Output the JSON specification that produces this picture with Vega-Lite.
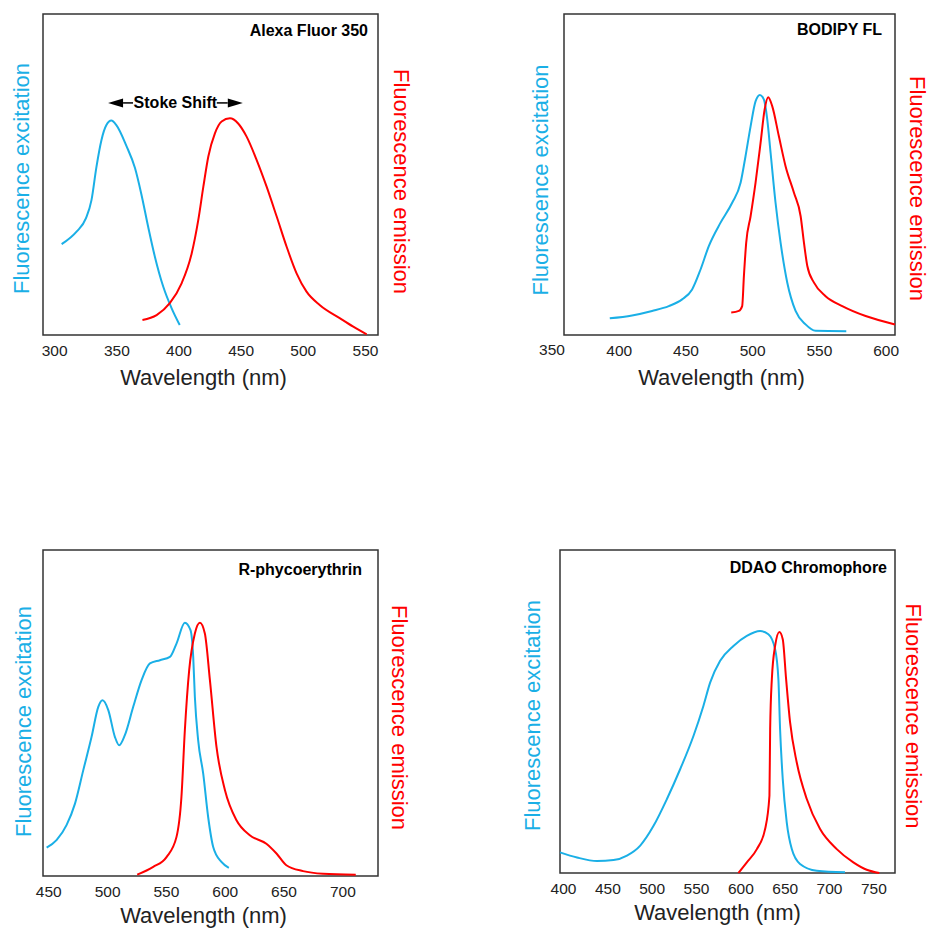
{
  "$schema": "https://vega.github.io/schema/vega-lite/v6.json",
  "background": "white",
  "padding": {"left": 9, "top": 13, "right": 0, "bottom": 0},
  "datasets": {
    "alexa": [
      {"s": "ex", "w": 306, "v": 0.283}, {"s": "ex", "w": 318, "v": 0.322}, {"s": "ex", "w": 325.5, "v": 0.363}, {"s": "ex", "w": 330, "v": 0.42}, {"s": "ex", "w": 334, "v": 0.524}, {"s": "ex", "w": 338, "v": 0.607}, {"s": "ex", "w": 342, "v": 0.654}, {"s": "ex", "w": 346, "v": 0.668}, {"s": "ex", "w": 350, "v": 0.654}, {"s": "ex", "w": 358, "v": 0.59}, {"s": "ex", "w": 365, "v": 0.52}, {"s": "ex", "w": 370, "v": 0.441}, {"s": "ex", "w": 375.6, "v": 0.337}, {"s": "ex", "w": 381, "v": 0.244}, {"s": "ex", "w": 387.7, "v": 0.151}, {"s": "ex", "w": 394.5, "v": 0.083}, {"s": "ex", "w": 401, "v": 0.031},
      {"s": "em", "w": 371, "v": 0.047}, {"s": "em", "w": 382.4, "v": 0.062}, {"s": "em", "w": 393, "v": 0.099}, {"s": "em", "w": 402.5, "v": 0.161}, {"s": "em", "w": 410.6, "v": 0.254}, {"s": "em", "w": 415.9, "v": 0.358}, {"s": "em", "w": 420, "v": 0.462}, {"s": "em", "w": 424, "v": 0.556}, {"s": "em", "w": 429.3, "v": 0.628}, {"s": "em", "w": 434.7, "v": 0.665}, {"s": "em", "w": 441.4, "v": 0.675}, {"s": "em", "w": 448, "v": 0.659}, {"s": "em", "w": 454.8, "v": 0.618}, {"s": "em", "w": 462.9, "v": 0.545}, {"s": "em", "w": 470.9, "v": 0.462}, {"s": "em", "w": 479, "v": 0.369}, {"s": "em", "w": 487, "v": 0.275}, {"s": "em", "w": 495, "v": 0.192}, {"s": "em", "w": 503, "v": 0.135}, {"s": "em", "w": 513.8, "v": 0.093}, {"s": "em", "w": 530, "v": 0.052}, {"s": "em", "w": 540.6, "v": 0.026}, {"s": "em", "w": 551.4, "v": 0.002}
    ],
    "bodipy": [
      {"s": "ex", "w": 393.3, "v": 0.052}, {"s": "ex", "w": 410, "v": 0.061}, {"s": "ex", "w": 425, "v": 0.075}, {"s": "ex", "w": 437.5, "v": 0.09}, {"s": "ex", "w": 447.5, "v": 0.111}, {"s": "ex", "w": 455, "v": 0.142}, {"s": "ex", "w": 461.3, "v": 0.204}, {"s": "ex", "w": 467.5, "v": 0.277}, {"s": "ex", "w": 476.3, "v": 0.35}, {"s": "ex", "w": 485, "v": 0.412}, {"s": "ex", "w": 491.3, "v": 0.474}, {"s": "ex", "w": 495, "v": 0.557}, {"s": "ex", "w": 498.8, "v": 0.65}, {"s": "ex", "w": 502.5, "v": 0.728}, {"s": "ex", "w": 505.8, "v": 0.748}, {"s": "ex", "w": 508.8, "v": 0.733}, {"s": "ex", "w": 511.3, "v": 0.671}, {"s": "ex", "w": 513.8, "v": 0.567}, {"s": "ex", "w": 517.5, "v": 0.412}, {"s": "ex", "w": 521.3, "v": 0.287}, {"s": "ex", "w": 526.3, "v": 0.163}, {"s": "ex", "w": 532.5, "v": 0.075}, {"s": "ex", "w": 540, "v": 0.033}, {"s": "ex", "w": 547.5, "v": 0.013}, {"s": "ex", "w": 570.5, "v": 0.012},
      {"s": "em", "w": 484.3, "v": 0.07}, {"s": "em", "w": 490, "v": 0.075}, {"s": "em", "w": 492.5, "v": 0.09}, {"s": "em", "w": 493.8, "v": 0.184}, {"s": "em", "w": 495.5, "v": 0.287}, {"s": "em", "w": 498.8, "v": 0.37}, {"s": "em", "w": 502.5, "v": 0.474}, {"s": "em", "w": 506.3, "v": 0.599}, {"s": "em", "w": 509.3, "v": 0.702}, {"s": "em", "w": 512, "v": 0.741}, {"s": "em", "w": 515, "v": 0.713}, {"s": "em", "w": 520, "v": 0.619}, {"s": "em", "w": 525, "v": 0.526}, {"s": "em", "w": 531.3, "v": 0.443}, {"s": "em", "w": 536.3, "v": 0.37}, {"s": "em", "w": 538.8, "v": 0.287}, {"s": "em", "w": 541.3, "v": 0.215}, {"s": "em", "w": 546.3, "v": 0.163}, {"s": "em", "w": 555, "v": 0.121}, {"s": "em", "w": 567.5, "v": 0.09}, {"s": "em", "w": 585, "v": 0.059}, {"s": "em", "w": 607, "v": 0.033}
    ],
    "bodipy_extra_label": [{"w": 350, "v": 0, "label": "350"}],
    "rpe": [
      {"s": "ex", "w": 448.6, "v": 0.087}, {"s": "ex", "w": 457, "v": 0.11}, {"s": "ex", "w": 465.5, "v": 0.156}, {"s": "ex", "w": 472.7, "v": 0.222}, {"s": "ex", "w": 479.7, "v": 0.324}, {"s": "ex", "w": 486.8, "v": 0.427}, {"s": "ex", "w": 492.5, "v": 0.519}, {"s": "ex", "w": 496.1, "v": 0.539}, {"s": "ex", "w": 501, "v": 0.509}, {"s": "ex", "w": 506.6, "v": 0.427}, {"s": "ex", "w": 510.3, "v": 0.401}, {"s": "ex", "w": 515.1, "v": 0.432}, {"s": "ex", "w": 522.2, "v": 0.519}, {"s": "ex", "w": 529.3, "v": 0.601}, {"s": "ex", "w": 536.4, "v": 0.652}, {"s": "ex", "w": 544.9, "v": 0.662}, {"s": "ex", "w": 553.4, "v": 0.672}, {"s": "ex", "w": 559, "v": 0.713}, {"s": "ex", "w": 566.1, "v": 0.777}, {"s": "ex", "w": 570.9, "v": 0.754}, {"s": "ex", "w": 573.2, "v": 0.672}, {"s": "ex", "w": 574.6, "v": 0.55}, {"s": "ex", "w": 577.4, "v": 0.417}, {"s": "ex", "w": 581.7, "v": 0.314}, {"s": "ex", "w": 585.9, "v": 0.181}, {"s": "ex", "w": 590.2, "v": 0.089}, {"s": "ex", "w": 597.2, "v": 0.043}, {"s": "ex", "w": 603.5, "v": 0.025},
      {"s": "em", "w": 525.6, "v": 0.004}, {"s": "em", "w": 539.2, "v": 0.028}, {"s": "em", "w": 550.5, "v": 0.058}, {"s": "em", "w": 559, "v": 0.12}, {"s": "em", "w": 563.2, "v": 0.243}, {"s": "em", "w": 566.1, "v": 0.447}, {"s": "em", "w": 569.8, "v": 0.632}, {"s": "em", "w": 574.6, "v": 0.744}, {"s": "em", "w": 578.9, "v": 0.777}, {"s": "em", "w": 583.1, "v": 0.744}, {"s": "em", "w": 587.4, "v": 0.601}, {"s": "em", "w": 593, "v": 0.396}, {"s": "em", "w": 600.2, "v": 0.263}, {"s": "em", "w": 610, "v": 0.171}, {"s": "em", "w": 621.3, "v": 0.125}, {"s": "em", "w": 635.4, "v": 0.099}, {"s": "em", "w": 644, "v": 0.069}, {"s": "em", "w": 652.4, "v": 0.033}, {"s": "em", "w": 666.6, "v": 0.015}, {"s": "em", "w": 683.6, "v": 0.007}, {"s": "em", "w": 711.4, "v": 0.004}
    ],
    "ddao": [
      {"s": "ex", "w": 396.6, "v": 0.064}, {"s": "ex", "w": 415.8, "v": 0.048}, {"s": "ex", "w": 438.3, "v": 0.037}, {"s": "ex", "w": 457, "v": 0.04}, {"s": "ex", "w": 472.1, "v": 0.054}, {"s": "ex", "w": 487.1, "v": 0.085}, {"s": "ex", "w": 502.1, "v": 0.146}, {"s": "ex", "w": 517.2, "v": 0.229}, {"s": "ex", "w": 532.2, "v": 0.322}, {"s": "ex", "w": 547.2, "v": 0.425}, {"s": "ex", "w": 558.4, "v": 0.518}, {"s": "ex", "w": 566, "v": 0.59}, {"s": "ex", "w": 577.2, "v": 0.657}, {"s": "ex", "w": 592.2, "v": 0.703}, {"s": "ex", "w": 607.3, "v": 0.734}, {"s": "ex", "w": 622.3, "v": 0.749}, {"s": "ex", "w": 631.6, "v": 0.739}, {"s": "ex", "w": 639.2, "v": 0.693}, {"s": "ex", "w": 642.9, "v": 0.6}, {"s": "ex", "w": 644.8, "v": 0.445}, {"s": "ex", "w": 647.8, "v": 0.291}, {"s": "ex", "w": 652.3, "v": 0.157}, {"s": "ex", "w": 658, "v": 0.074}, {"s": "ex", "w": 667.3, "v": 0.028}, {"s": "ex", "w": 686.2, "v": 0.007}, {"s": "ex", "w": 718, "v": 0.002},
      {"s": "em", "w": 597.8, "v": 0}, {"s": "em", "w": 607.3, "v": 0.033}, {"s": "em", "w": 618.6, "v": 0.074}, {"s": "em", "w": 627.9, "v": 0.136}, {"s": "em", "w": 632.8, "v": 0.239}, {"s": "em", "w": 633.6, "v": 0.445}, {"s": "em", "w": 635.5, "v": 0.6}, {"s": "em", "w": 639.2, "v": 0.703}, {"s": "em", "w": 644, "v": 0.746}, {"s": "em", "w": 647.8, "v": 0.724}, {"s": "em", "w": 651.6, "v": 0.6}, {"s": "em", "w": 656.1, "v": 0.466}, {"s": "em", "w": 663.6, "v": 0.342}, {"s": "em", "w": 674.9, "v": 0.229}, {"s": "em", "w": 689.9, "v": 0.136}, {"s": "em", "w": 708.7, "v": 0.074}, {"s": "em", "w": 727.4, "v": 0.033}, {"s": "em", "w": 742.5, "v": 0.01}, {"s": "em", "w": 756.7, "v": 0}
    ],
    "stoke_text": [{"label": "Stoke Shift", "w": 397.5, "v": 0.723}],
    "stoke_lines": [{"w": 355.4, "w2": 363.4, "v": 0.723}, {"w": 430.8, "w2": 439.6, "v": 0.723}],
    "stoke_heads": [{"dir": "left", "w": 349.4, "v": 0.723}, {"dir": "right", "w": 445.7, "v": 0.723}]
  },
  "vconcat": [
    {
      "hconcat": [
        {
          "width": 335, "height": 321,
          "title": {"text": "Alexa Fluor 350", "anchor": "end", "frame": "group", "dx": -10, "dy": 29},
          "layer": [
            {"data": {"name": "alexa"}, "transform": [{"filter": "datum.s === 'ex'"}], "mark": {"type": "line", "interpolate": "monotone", "color": "#1AAFE6", "strokeWidth": 2},
             "encoding": {"x": {"field": "w", "type": "quantitative", "scale": {"domain": [291, 560.5], "nice": false, "zero": false}, "axis": {"values": [300, 350, 400, 450, 500, 550], "title": "Wavelength (nm)", "titleX": 160}},
                          "y": {"field": "v", "type": "quantitative", "scale": {"domain": [0, 1]}, "axis": {"orient": "left", "title": "Fluorescence excitation", "titleColor": "#1AAFE6", "titlePadding": 10, "titleY": 164}}}},
            {"data": {"name": "alexa"}, "transform": [{"filter": "datum.s === 'em'"}], "mark": {"type": "line", "interpolate": "monotone", "color": "#FF0000", "strokeWidth": 2},
             "encoding": {"x": {"field": "w", "type": "quantitative"},
                          "y": {"field": "v", "type": "quantitative", "scale": {"domain": [0, 1]}, "axis": {"orient": "right", "title": "Fluorescence emission", "titleColor": "#FF0000", "titlePadding": 10, "titleY": 167}}}},
            {"data": {"name": "stoke_lines"}, "mark": {"type": "rule", "color": "#000", "strokeWidth": 1.5},
             "encoding": {"x": {"field": "w", "type": "quantitative"}, "x2": {"field": "w2"}, "y": {"field": "v", "type": "quantitative", "scale": {"domain": [0, 1]}, "axis": null}}},
            {"data": {"name": "stoke_heads"}, "mark": {"type": "point", "filled": true, "color": "#000", "opacity": 1, "size": 225},
             "encoding": {"x": {"field": "w", "type": "quantitative"}, "y": {"field": "v", "type": "quantitative", "scale": {"domain": [0, 1]}, "axis": null},
                          "shape": {"field": "dir", "type": "nominal", "scale": {"domain": ["left", "right"], "range": ["M-1,0L1,-0.6L1,0.6Z", "M1,0L-1,-0.6L-1,0.6Z"]}, "legend": null}}},
            {"data": {"name": "stoke_text"}, "mark": {"type": "text", "font": "Liberation Sans", "fontSize": 16, "fontWeight": "bold", "color": "#000"},
             "encoding": {"x": {"field": "w", "type": "quantitative"}, "y": {"field": "v", "type": "quantitative", "scale": {"domain": [0, 1]}, "axis": null}, "text": {"field": "label"}}}
          ],
          "resolve": {"scale": {"y": "independent"}}
        },
        {
          "width": 331, "height": 321,
          "title": {"text": "BODIPY FL", "anchor": "end", "frame": "group", "dx": -13, "dy": 28},
          "layer": [
            {"data": {"name": "bodipy"}, "transform": [{"filter": "datum.s === 'ex'"}], "mark": {"type": "line", "interpolate": "monotone", "color": "#1AAFE6", "strokeWidth": 2},
             "encoding": {"x": {"field": "w", "type": "quantitative", "scale": {"domain": [359, 607], "nice": false, "zero": false}, "axis": {"values": [350, 400, 450, 500, 550, 600], "title": "Wavelength (nm)", "titleX": 157}},
                          "y": {"field": "v", "type": "quantitative", "scale": {"domain": [0, 1]}, "axis": {"orient": "left", "title": "Fluorescence excitation", "titleColor": "#1AAFE6", "titlePadding": 12, "titleY": 165.5}}}},
            {"data": {"name": "bodipy"}, "transform": [{"filter": "datum.s === 'em'"}], "mark": {"type": "line", "interpolate": "monotone", "color": "#FF0000", "strokeWidth": 2},
             "encoding": {"x": {"field": "w", "type": "quantitative"},
                          "y": {"field": "v", "type": "quantitative", "scale": {"domain": [0, 1]}, "axis": {"orient": "right", "title": "Fluorescence emission", "titleColor": "#FF0000", "titlePadding": 9, "titleY": 174}}}},
            {"data": {"name": "bodipy_extra_label"}, "mark": {"type": "text", "font": "Liberation Sans", "fontSize": 15.5, "color": "#222", "baseline": "top", "align": "center", "dy": 8},
             "encoding": {"x": {"field": "w", "type": "quantitative"}, "y": {"field": "v", "type": "quantitative", "scale": {"domain": [0, 1]}, "axis": null}, "text": {"field": "label"}}}
          ],
          "resolve": {"scale": {"y": "independent"}}
        }
      ],
      "spacing": 116
    },
    {
      "hconcat": [
        {
          "width": 335, "height": 326,
          "title": {"text": "R-phycoerythrin", "anchor": "end", "frame": "group", "dx": -16, "dy": 32},
          "layer": [
            {"data": {"name": "rpe"}, "transform": [{"filter": "datum.s === 'ex'"}], "mark": {"type": "line", "interpolate": "monotone", "color": "#1AAFE6", "strokeWidth": 2},
             "encoding": {"x": {"field": "w", "type": "quantitative", "scale": {"domain": [445.5, 730.3], "nice": false, "zero": false}, "axis": {"values": [450, 500, 550, 600, 650, 700], "title": "Wavelength (nm)", "titleX": 160, "titlePadding": 6}},
                          "y": {"field": "v", "type": "quantitative", "scale": {"domain": [0, 1]}, "axis": {"orient": "left", "title": "Fluorescence excitation", "titleColor": "#1AAFE6", "titlePadding": 8, "titleY": 171}}}},
            {"data": {"name": "rpe"}, "transform": [{"filter": "datum.s === 'em'"}], "mark": {"type": "line", "interpolate": "monotone", "color": "#FF0000", "strokeWidth": 2},
             "encoding": {"x": {"field": "w", "type": "quantitative"},
                          "y": {"field": "v", "type": "quantitative", "scale": {"domain": [0, 1]}, "axis": {"orient": "right", "title": "Fluorescence emission", "titleColor": "#FF0000", "titlePadding": 8, "titleY": 167}}}}
          ],
          "resolve": {"scale": {"y": "independent"}}
        },
        {
          "width": 335, "height": 323,
          "title": {"text": "DDAO Chromophore", "anchor": "end", "frame": "group", "dx": -8, "dy": 30},
          "layer": [
            {"data": {"name": "ddao"}, "transform": [{"filter": "datum.s === 'ex'"}], "mark": {"type": "line", "interpolate": "monotone", "color": "#1AAFE6", "strokeWidth": 2},
             "encoding": {"x": {"field": "w", "type": "quantitative", "scale": {"domain": [396.6, 774.4], "nice": false, "zero": false}, "axis": {"values": [400, 450, 500, 550, 600, 650, 700, 750], "title": "Wavelength (nm)", "titleX": 157, "titlePadding": 6}},
                          "y": {"field": "v", "type": "quantitative", "scale": {"domain": [0, 1]}, "axis": {"orient": "left", "title": "Fluorescence excitation", "titleColor": "#1AAFE6", "titlePadding": 16, "titleY": 165}}}},
            {"data": {"name": "ddao"}, "transform": [{"filter": "datum.s === 'em'"}], "mark": {"type": "line", "interpolate": "monotone", "color": "#FF0000", "strokeWidth": 2},
             "encoding": {"x": {"field": "w", "type": "quantitative"},
                          "y": {"field": "v", "type": "quantitative", "scale": {"domain": [0, 1]}, "axis": {"orient": "right", "title": "Fluorescence emission", "titleColor": "#FF0000", "titlePadding": 5, "titleY": 165.5}}}}
          ],
          "resolve": {"scale": {"y": "independent"}}
        }
      ],
      "spacing": 110
    }
  ],
  "spacing": 159,
  "config": {
    "font": "Liberation Sans",
    "view": {"stroke": "#333", "strokeWidth": 1.5},
    "title": {"font": "Liberation Sans", "fontSize": 16, "fontWeight": "bold", "color": "#000"},
    "axis": {"grid": false, "domain": false, "ticks": false, "tickSize": 0, "labelFont": "Liberation Sans", "labelFontSize": 15.5, "labelColor": "#222", "labelPadding": 8, "titleFont": "Liberation Sans", "titleFontSize": 22, "titleFontWeight": "normal", "titleColor": "#222", "titlePadding": 9},
    "axisY": {"labels": false}
  }
}
